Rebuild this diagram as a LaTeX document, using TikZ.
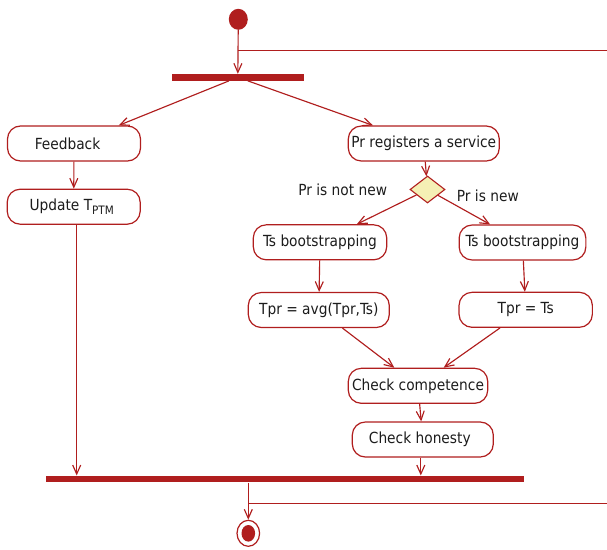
\documentclass[tikz,border=0pt]{standalone}
\usepackage{fontspec}
\setmainfont{DejaVu Sans Condensed}
\usetikzlibrary{arrows.meta,shapes.geometric}
\definecolor{umlred}{HTML}{B01E1E}
\definecolor{umltext}{HTML}{1C1C1C}
\definecolor{decfill}{HTML}{F5F0B5}

\begin{document}
\begin{tikzpicture}[x=1pt,y=-1pt,
  act/.style={draw=umlred, line width=1.2pt, fill=white, rounded corners=13pt,
    minimum height=35pt, inner sep=0pt, font=\fontsize{15.3}{18}\selectfont, text=umltext},
  bar/.style={fill=umlred, draw=none, inner sep=0pt, minimum height=6.7pt},
  flow/.style={draw=umlred, line width=1.15pt, -{Straight Barb[length=9pt,width=8pt]}},
  wire/.style={draw=umlred, line width=1.15pt},
  guard/.style={font=\fontsize{15.3}{18}\selectfont, text=umltext, inner sep=0pt},
  decision/.style={diamond, draw=umlred, line width=1.1pt, fill=decfill, inner sep=0pt,
    minimum width=35pt, minimum height=27pt},
  dot/.style={ellipse, fill=umlred, draw=none, inner sep=0pt},
]
\useasboundingbox (0,0) rectangle (607,549);

% initial node and fork
\node[dot, minimum width=19pt, minimum height=21pt] (start) at (238.3,19.3) {};
\node[bar, minimum width=132.3pt] (fork) at (237.8,77.3) {};

% left branch
\node[act, minimum width=133pt] (fb) at (74,143.5) {\hspace*{-13pt}Feedback};
\node[act, minimum width=133pt] (upd) at (73.7,206.7)
  {\hspace*{-4pt}Update T\raisebox{-3.3pt}{\fontsize{11.6}{12}\selectfont PTM}};

% right branch
\node[act, minimum width=151pt] (reg) at (423.8,143.5) {Pr registers a service};
\node[decision] (dec) at (427.5,189.5) {};
\node[guard, anchor=east] (notnew) at (387.3,190) {Pr is not new};
\node[guard, anchor=west] (isnew) at (456.7,196) {Pr is new};
\node[act, minimum width=133.4pt] (tsl) at (320,242.3) {Ts bootstrapping};
\node[act, minimum width=126.7pt] (tsr) at (522.5,242.5) {Ts bootstrapping};
\node[act, minimum width=141pt] (avg) at (318.8,310) {Tpr = avg(Tpr,Ts)};
\node[act, minimum width=133.3pt] (eq) at (525.7,309.8) {Tpr = Ts};
\node[act, minimum width=139.4pt] (comp) at (418,385.8) {Check competence};
\node[act, minimum width=141pt] (hon) at (422.8,439.5) {\hspace*{-6pt}Check honesty};

% join and final node
\node[bar, minimum width=478.3pt] (join) at (284.8,479) {};
\node[ellipse, draw=umlred, line width=1.2pt, fill=white, inner sep=0pt,
  minimum width=22.6pt, minimum height=26pt] (final) at (248.3,533.3) {};
\node[dot, minimum width=13.6pt, minimum height=16.6pt] (finaldot) at (final) {};

% taps running off to the right
\coordinate (tapA) at (238.3,50.3);
\coordinate (edgeA) at (607,50.3);
\coordinate (tapB) at (248.3,503.3);
\coordinate (edgeB) at (607,503.3);

% flows
\draw[flow] (start) -- (fork);
\draw[wire] (tapA) -- (edgeA);
\draw[flow] (fork) -- (fb);
\draw[flow] (fork) -- (reg);
\draw[flow] (fb) -- (upd);
\draw[flow] ([xshift=3pt]upd.south) -- ([xshift=3pt]upd.south |- join.north);
\draw[flow] (reg) -- (dec);
\draw[flow] (dec) -- (tsl);
\draw[flow] (dec) -- (tsr);
\draw[flow] (tsl) -- (avg);
\draw[flow] (tsr) -- (eq);
\draw[flow] (avg) -- (comp);
\draw[flow] (eq) -- (comp);
\draw[flow] (comp) -- (hon);
\draw[flow] ([xshift=-2pt]hon.south) -- ([xshift=-2pt]hon.south |- join.north);
\draw[flow] (join.south -| final) -- (final);
\draw[wire] (tapB) -- (edgeB);
\end{tikzpicture}
\end{document}
